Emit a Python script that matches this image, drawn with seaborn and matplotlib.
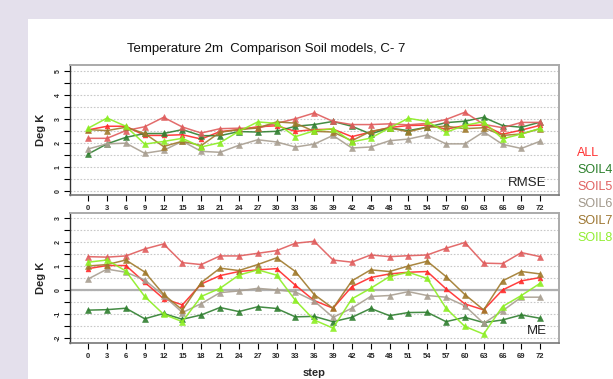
import numpy as np
import pandas as pd
import matplotlib
matplotlib.use("Agg")
import matplotlib.pyplot as plt
from matplotlib.ticker import MultipleLocator, FuncFormatter
import seaborn as sns

sns.set_style("white")
plt.rcParams["font.family"] = ["Liberation Sans", "DejaVu Sans"]

steps = list(range(0, 75, 3))
models = ["ALL", "SOIL4", "SOIL5", "SOIL6", "SOIL7", "SOIL8"]

# RMSE per forecast step
rmse_all = [2.55, 2.7, 2.7, 2.32, 2.32, 2.35, 2.17, 2.48, 2.56, 2.68, 2.72, 2.49, 2.56,
            2.58, 2.27, 2.46, 2.65, 2.73, 2.75, 2.58, 2.73, 2.75, 2.37, 2.54, 2.74]
rmse_soil4 = [1.55, 1.97, 2.24, 2.4, 2.4, 2.56, 2.31, 2.31, 2.48, 2.46, 2.49, 2.7, 2.77,
              2.9, 2.7, 2.38, 2.63, 2.52, 2.66, 2.85, 2.91, 3.07, 2.73, 2.66, 2.87]
rmse_soil5 = [2.2, 2.2, 2.52, 2.68, 3.07, 2.67, 2.42, 2.6, 2.62, 2.62, 2.82, 3.01, 3.25,
              2.9, 2.77, 2.77, 2.8, 2.76, 2.82, 2.98, 3.28, 2.78, 2.64, 2.86, 2.86]
rmse_soil6 = [1.76, 1.97, 2.0, 1.58, 1.7, 2.08, 1.66, 1.62, 1.91, 2.14, 2.05, 1.84, 1.96,
              2.32, 1.8, 1.84, 2.1, 2.17, 2.34, 1.97, 1.97, 2.47, 1.95, 1.78, 2.08]
rmse_soil7 = [2.56, 2.52, 2.66, 2.4, 1.86, 2.08, 1.9, 2.45, 2.56, 2.63, 2.88, 2.83, 2.49,
              2.46, 2.1, 2.49, 2.63, 2.47, 2.66, 2.7, 2.6, 2.64, 2.32, 2.38, 2.6]
rmse_soil8 = [2.62, 3.04, 2.7, 1.96, 2.07, 2.2, 1.84, 2.02, 2.49, 2.88, 2.82, 2.27, 2.51,
              2.6, 2.05, 2.21, 2.63, 3.03, 2.9, 2.45, 2.74, 2.89, 2.18, 2.38, 2.61]

# Mean error per forecast step
me_all = [0.9, 1.03, 1.03, 0.33, -0.35, -0.61, 0.26, 0.61, 0.78, 0.85, 0.9, 0.21, -0.43,
          -0.75, 0.15, 0.53, 0.68, 0.75, 0.78, 0.06, -0.57, -0.82, 0.01, 0.39, 0.53]
me_soil4 = [-0.83, -0.81, -0.75, -1.19, -0.97, -1.21, -1.03, -0.72, -0.89, -0.69, -0.76, -1.11, -1.09,
            -1.31, -1.13, -0.76, -1.06, -0.93, -0.92, -1.31, -1.13, -1.35, -1.24, -1.03, -1.17]
me_soil5 = [1.4, 1.38, 1.43, 1.72, 1.93, 1.15, 1.07, 1.43, 1.43, 1.54, 1.65, 1.96, 2.04,
            1.26, 1.17, 1.47, 1.4, 1.44, 1.47, 1.75, 1.99, 1.13, 1.11, 1.57, 1.4]
me_soil6 = [0.47, 0.88, 0.75, 0.43, -0.22, -0.93, -0.56, -0.1, -0.03, 0.08, 0.01, -0.07, -0.45,
            -1.13, -0.75, -0.26, -0.22, -0.06, -0.22, -0.29, -0.65, -1.38, -0.86, -0.29, -0.29]
me_soil7 = [1.01, 1.07, 1.26, 0.76, -0.17, -0.82, 0.32, 0.92, 0.82, 1.07, 1.35, 0.78, -0.18,
            -0.75, 0.39, 0.85, 0.78, 1.01, 1.21, 0.57, -0.18, -0.82, 0.39, 0.78, 0.68]
me_soil8 = [1.17, 1.26, 0.8, -0.26, -1.0, -1.31, -0.26, 0.08, 0.63, 0.85, 0.63, -0.42, -1.24,
            -1.58, -0.36, 0.08, 0.57, 0.75, 0.49, -0.75, -1.51, -1.83, -0.68, -0.22, 0.29]

line_colors = {"ALL": "#ff2a2a", "SOIL4": "#2f7f2f", "SOIL5": "#e05c5c",
               "SOIL6": "#a89e90", "SOIL7": "#a07a2c", "SOIL8": "#8cee22"}
marker_sizes = {"ALL": 3.5, "SOIL4": 5, "SOIL5": 5, "SOIL6": 5, "SOIL7": 5, "SOIL8": 5}


def long_frame(series):
    rows = []
    for name, vals in zip(models, series):
        for s, v in zip(steps, vals):
            rows.append((name, s, v))
    return pd.DataFrame(rows, columns=["model", "step", "value"])


rmse_df = long_frame([rmse_all, rmse_soil4, rmse_soil5, rmse_soil6, rmse_soil7, rmse_soil8])
me_df = long_frame([me_all, me_soil4, me_soil5, me_soil6, me_soil7, me_soil8])

fig = plt.figure(figsize=(6.13, 3.79), dpi=100)
fig.patch.set_facecolor("#e4e0ec")
fig.add_artist(plt.Rectangle((28 / 613, 0), 1, 1 - 19 / 379, transform=fig.transFigure,
                             facecolor="white", edgecolor="none", zorder=0))

ax_top = fig.add_axes([70 / 613, 1 - 195 / 379, 489 / 613, 130 / 379])
ax_bot = fig.add_axes([70 / 613, 1 - 343 / 379, 489 / 613, 130 / 379])


def draw_panel(ax, df, ylim, label):
    ax.set_facecolor("white")
    for y in np.arange(np.ceil(ylim[0] * 2) / 2, ylim[1], 0.5):
        ax.axhline(y, color="#c8c8c8", lw=0.8, ls=(0, (1.5, 1.5)), zorder=1)
    for name in models:
        sub = df[df["model"] == name]
        sns.lineplot(data=sub, x="step", y="value", color=line_colors[name], lw=1.1,
                     marker="^", markersize=marker_sizes[name], markeredgewidth=0.4,
                     markeredgecolor=line_colors[name], alpha=0.9, ax=ax, zorder=3)
    ax.set_xlim(-2.9, 75)
    ax.set_ylim(*ylim)
    ax.set_xticks(steps)
    ax.set_xticklabels([str(s) for s in steps], fontsize=5.5, fontweight="bold")
    ax.yaxis.set_major_locator(MultipleLocator(0.5))
    ax.yaxis.set_major_formatter(FuncFormatter(
        lambda v, p: f"{int(round(v))}" if abs(v - round(v)) < 1e-6 else ""))
    for t in ax.get_yticklabels():
        t.set_rotation(90)
        t.set_va("center")
    ax.tick_params(axis="y", labelsize=5, length=4, width=0.8, color="black", pad=2, direction="out", left=True)
    ax.tick_params(axis="x", length=4, width=0.8, color="black", pad=3, direction="out", bottom=True)
    for t in ax.get_yticklabels():
        t.set_fontweight("bold")
    ax.set_xlabel("")
    ax.set_ylabel("Deg K", fontsize=8, fontweight="bold", labelpad=6)
    for side in ["top", "right"]:
        ax.spines[side].set_color("#aaaaaa")
        ax.spines[side].set_linewidth(1.4)
    ax.spines["bottom"].set_color("#777777")
    ax.spines["bottom"].set_linewidth(1.2)
    ax.spines["left"].set_color("#333333")
    ax.spines["left"].set_linewidth(1.0)
    ax.text(0.975, 0.05, label, transform=ax.transAxes, ha="right", va="bottom",
            fontsize=9.5, color="#222222")


draw_panel(ax_top, rmse_df, (-0.15, 5.24), "RMSE")
draw_panel(ax_bot, me_df, (-2.2, 3.22), "ME")
ax_bot.axhline(0, color="#b0b0b0", lw=1.6, zorder=2)
ax_bot.set_xlabel("step", fontsize=8, fontweight="bold", labelpad=6)

fig.text(266 / 613, 1 - 49 / 379, "Temperature 2m  Comparison Soil models, C- 7",
         ha="center", va="center", fontsize=9.5, color="#111111")

legend_colors = {"ALL": "#ff3030", "SOIL4": "#2a7f2a", "SOIL5": "#e06060",
                 "SOIL6": "#a0978a", "SOIL7": "#9c7530", "SOIL8": "#90ee30"}
for i, name in enumerate(models):
    fig.text(577 / 613, 1 - (153 + 17 * i) / 379, name, ha="left", va="center",
             fontsize=9, color=legend_colors[name])

fig.savefig("out.png", dpi=100, facecolor=fig.get_facecolor())
